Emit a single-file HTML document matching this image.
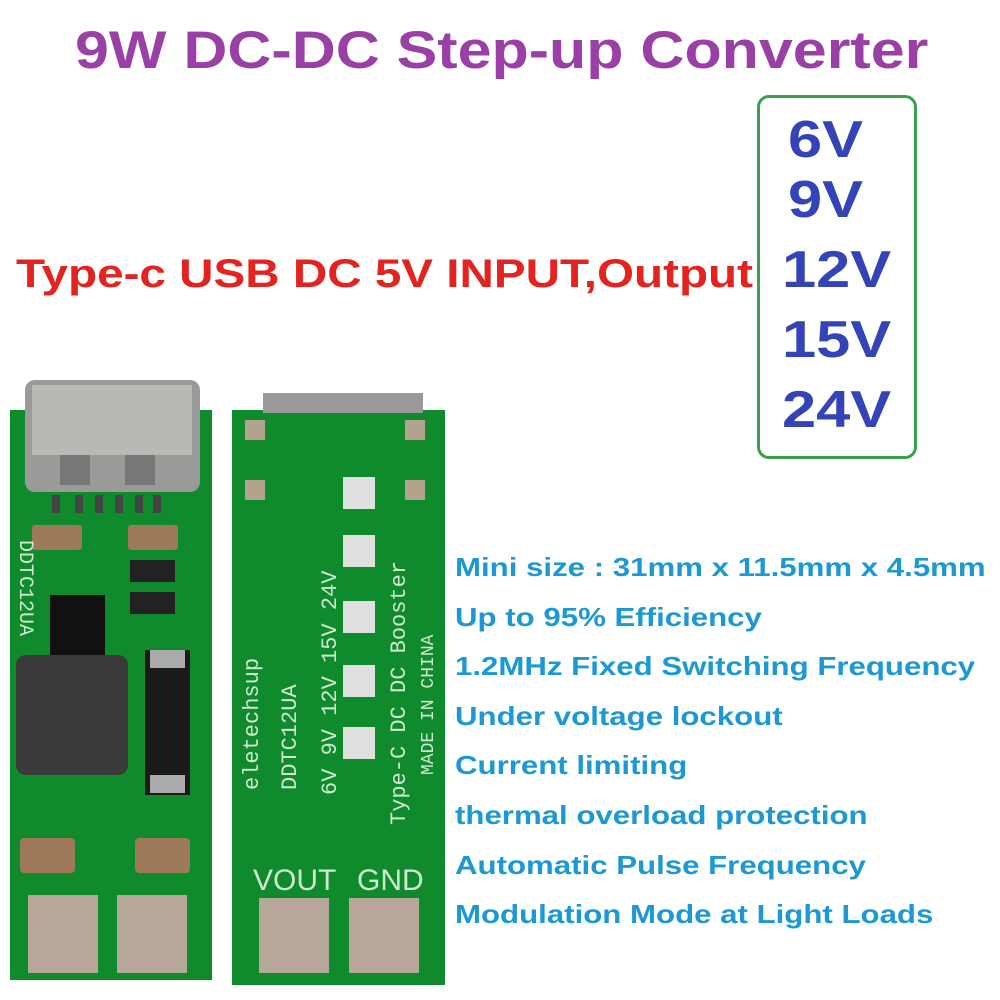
<!DOCTYPE html>
<html><head><meta charset="utf-8"><style>
html,body{margin:0;padding:0;background:#fff;width:1000px;height:1000px;overflow:hidden}
.t{position:absolute;font-family:"Liberation Sans",sans-serif;font-weight:bold;white-space:nowrap;transform-origin:0 0}
</style></head><body>
<div class="t" style="left:75px;top:20px;font-size:53px;color:#9a3fa6;transform:scaleX(1.15)">9W DC-DC Step-up Converter</div>
<div class="t" style="left:16px;top:252px;font-size:40px;color:#e2231f;transform:scaleX(1.19)">Type-c USB DC 5V INPUT,Output</div>
<div style="position:absolute;left:757px;top:95px;width:154px;height:358px;border:3px solid #3aa04a;border-radius:12px"></div>
<div class="t" style="left:788px;top:110px;font-size:52px;color:#3443b8;transform:scaleX(1.18)">6V</div>
<div class="t" style="left:788px;top:170px;font-size:52px;color:#3443b8;transform:scaleX(1.18)">9V</div>
<div class="t" style="left:782px;top:240px;font-size:52px;color:#3443b8;transform:scaleX(1.18)">12V</div>
<div class="t" style="left:782px;top:310px;font-size:52px;color:#3443b8;transform:scaleX(1.18)">15V</div>
<div class="t" style="left:782px;top:380px;font-size:52px;color:#3443b8;transform:scaleX(1.18)">24V</div>
<div class="t" style="left:455px;top:543px;font-size:26px;color:#1c98d4;line-height:49.6px;transform:scaleX(1.2)">Mini size : 31mm x 11.5mm x 4.5mm<br>Up to 95% Efficiency<br>1.2MHz Fixed Switching Frequency<br>Under voltage lockout<br>Current limiting<br>thermal overload protection<br>Automatic Pulse Frequency<br>Modulation Mode at Light Loads</div>
<svg style="position:absolute;left:0;top:0" width="1000" height="1000">
<rect x="10" y="410" width="202" height="570" fill="#0f8a2c"/>
<rect x="25" y="380" width="175" height="112" rx="10" fill="#9a9a98"/>
<rect x="32" y="385" width="160" height="70" fill="#b8b8b4"/>
<rect x="60" y="455" width="30" height="30" fill="#777"/><rect x="125" y="455" width="30" height="30" fill="#777"/>
<g fill="#444"><rect x="52" y="495" width="8" height="18"/><rect x="75" y="495" width="8" height="18"/><rect x="95" y="495" width="8" height="18"/><rect x="115" y="495" width="8" height="18"/><rect x="135" y="495" width="8" height="18"/><rect x="153" y="495" width="8" height="18"/></g>
<rect x="32" y="525" width="50" height="25" rx="3" fill="#9c7a5a"/><rect x="128" y="525" width="50" height="25" rx="3" fill="#9c7a5a"/>
<rect x="130" y="560" width="45" height="22" fill="#222"/><rect x="130" y="592" width="45" height="22" fill="#222"/>
<rect x="50" y="595" width="55" height="60" fill="#111"/>
<rect x="16" y="655" width="112" height="120" rx="10" fill="#3a3a3a"/>
<rect x="145" y="650" width="45" height="145" fill="#1a1a1a"/>
<rect x="150" y="650" width="35" height="18" fill="#aaa"/><rect x="150" y="775" width="35" height="18" fill="#aaa"/>
<rect x="20" y="838" width="55" height="35" rx="4" fill="#9c7a5a"/><rect x="135" y="838" width="55" height="35" rx="4" fill="#9c7a5a"/>
<rect x="28" y="895" width="70" height="78" fill="#b7a79a"/><rect x="117" y="895" width="70" height="78" fill="#b7a79a"/>
<rect x="232" y="410" width="213" height="575" fill="#0f8a2c"/>
<rect x="263" y="393" width="160" height="20" fill="#999"/>
<g fill="#e0e0e0"><rect x="343" y="477" width="32" height="32"/><rect x="343" y="535" width="32" height="32"/><rect x="343" y="601" width="32" height="32"/><rect x="343" y="665" width="32" height="32"/><rect x="343" y="727" width="32" height="32"/></g>
<g fill="#b3a28f"><rect x="245" y="420" width="20" height="20"/><rect x="405" y="420" width="20" height="20"/><rect x="245" y="480" width="20" height="20"/><rect x="405" y="480" width="20" height="20"/></g>
<rect x="259" y="898" width="70" height="75" fill="#b7a79a"/><rect x="349" y="898" width="70" height="75" fill="#b7a79a"/>
<text x="253" y="890" font-family="Liberation Sans,sans-serif" font-size="30" fill="#cfe8cf">VOUT</text>
<text x="357" y="890" font-family="Liberation Sans,sans-serif" font-size="30" fill="#cfe8cf">GND</text>
<g font-family="Liberation Mono,monospace" fill="#cfe8cf" font-size="22">
<text transform="translate(258,790) rotate(-90)">eletechsup</text>
<text transform="translate(296,790) rotate(-90)">DDTC12UA</text>
<text transform="translate(336,795) rotate(-90)">6V  9V  12V  15V  24V</text>
<text transform="translate(405,825) rotate(-90)">Type-C DC DC Booster</text>
<text transform="translate(433,775) rotate(-90)" font-size="18">MADE IN CHINA</text>
<text transform="translate(20,540) rotate(90)" font-size="20">DDTC12UA</text>
</g>
</svg>
</body></html>
